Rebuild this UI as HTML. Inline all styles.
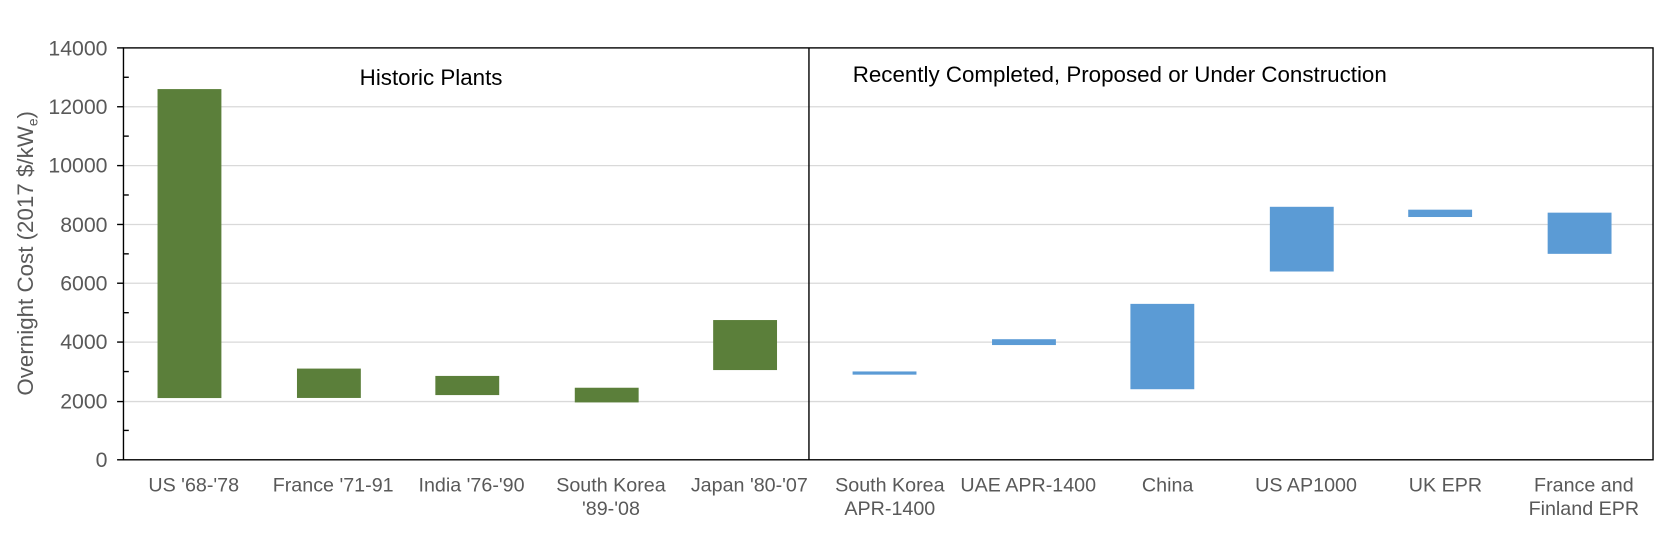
<!DOCTYPE html>
<html><head><meta charset="utf-8"><style>body{margin:0;background:#fff}svg{display:block}</style></head><body>
<svg width="1669" height="541" viewBox="0 0 1568 508.3" preserveAspectRatio="none" xmlns="http://www.w3.org/2000/svg" font-family="Liberation Sans, Arial, sans-serif">
<rect width="1568" height="508.3" fill="#fff"/>
<g stroke="#d9d9d9" stroke-width="1.2">
<line x1="116" x2="1553" y1="377.3" y2="377.3"/><line x1="116" x2="1553" y1="321.4" y2="321.4"/>
<line x1="116" x2="1553" y1="266.1" y2="266.1"/><line x1="116" x2="1553" y1="210.9" y2="210.9"/>
<line x1="116" x2="1553" y1="155.6" y2="155.6"/><line x1="116" x2="1553" y1="100.3" y2="100.3"/>
</g>
<g fill="#5b7f3a">
<rect x="148" y="83.7" width="60" height="290.3"/>
<rect x="279" y="346.3" width="60" height="27.6"/>
<rect x="409" y="353.2" width="60" height="18"/>
<rect x="540" y="364.3" width="60" height="13.8"/>
<rect x="670" y="300.7" width="60" height="47"/>
</g>
<g fill="#5b9bd5">
<rect x="801" y="349" width="60" height="3"/>
<rect x="932" y="318.7" width="60" height="5.5"/>
<rect x="1062" y="285.5" width="60" height="80.2"/>
<rect x="1193" y="194.3" width="60" height="60.8"/>
<rect x="1323" y="197" width="60" height="6.9"/>
<rect x="1454" y="199.8" width="60" height="38.7"/>
</g>
<rect x="116" y="45" width="1437" height="387" fill="none" stroke="#000" stroke-width="1.3"/>
<line x1="760" x2="760" y1="45" y2="432" stroke="#000" stroke-width="1.3"/>
<g stroke="#000" stroke-width="1.3">
<line x1="110" x2="116" y1="45" y2="45"/><line x1="110" x2="116" y1="100.3" y2="100.3"/><line x1="110" x2="116" y1="155.6" y2="155.6"/><line x1="110" x2="116" y1="210.9" y2="210.9"/><line x1="110" x2="116" y1="266.1" y2="266.1"/><line x1="110" x2="116" y1="321.4" y2="321.4"/><line x1="110" x2="116" y1="377.3" y2="377.3"/><line x1="110" x2="116" y1="432" y2="432"/>
<line x1="116" x2="121" y1="72.6" y2="72.6"/><line x1="116" x2="121" y1="127.9" y2="127.9"/><line x1="116" x2="121" y1="183.2" y2="183.2"/><line x1="116" x2="121" y1="238.5" y2="238.5"/><line x1="116" x2="121" y1="293.8" y2="293.8"/><line x1="116" x2="121" y1="349.1" y2="349.1"/><line x1="116" x2="121" y1="404.4" y2="404.4"/>
</g>
<g fill="#595959" font-size="20" text-anchor="end">
<text x="101" y="52">14000</text><text x="101" y="107">12000</text><text x="101" y="162">10000</text><text x="101" y="218">8000</text><text x="101" y="273">6000</text><text x="101" y="328">4000</text><text x="101" y="384">2000</text><text x="101" y="439">0</text>
</g>
<text transform="translate(31,238) rotate(-90)" text-anchor="middle" fill="#595959" font-size="21">Overnight Cost (2017 $/kW<tspan font-size="13" dy="4">e</tspan><tspan dy="-4">)</tspan></text>
<g fill="#595959" font-size="18.5" text-anchor="middle">
<text x="182" y="462">US '68-'78</text>
<text x="313" y="462">France '71-91</text>
<text x="443" y="462">India '76-'90</text>
<text x="574" y="462">South Korea</text><text x="574" y="484">'89-'08</text>
<text x="704" y="462">Japan '80-'07</text>
<text x="836" y="462">South Korea</text><text x="836" y="484">APR-1400</text>
<text x="966" y="462">UAE APR-1400</text>
<text x="1097" y="462">China</text>
<text x="1227" y="462">US AP1000</text>
<text x="1358" y="462">UK EPR</text>
<text x="1488" y="462">France and</text><text x="1488" y="484">Finland EPR</text>
</g>
<text x="405" y="80" text-anchor="middle" font-size="21" fill="#000">Historic Plants</text>
<text x="1052" y="77" text-anchor="middle" font-size="21" fill="#000">Recently Completed, Proposed or Under Construction</text>
</svg>
</body></html>
